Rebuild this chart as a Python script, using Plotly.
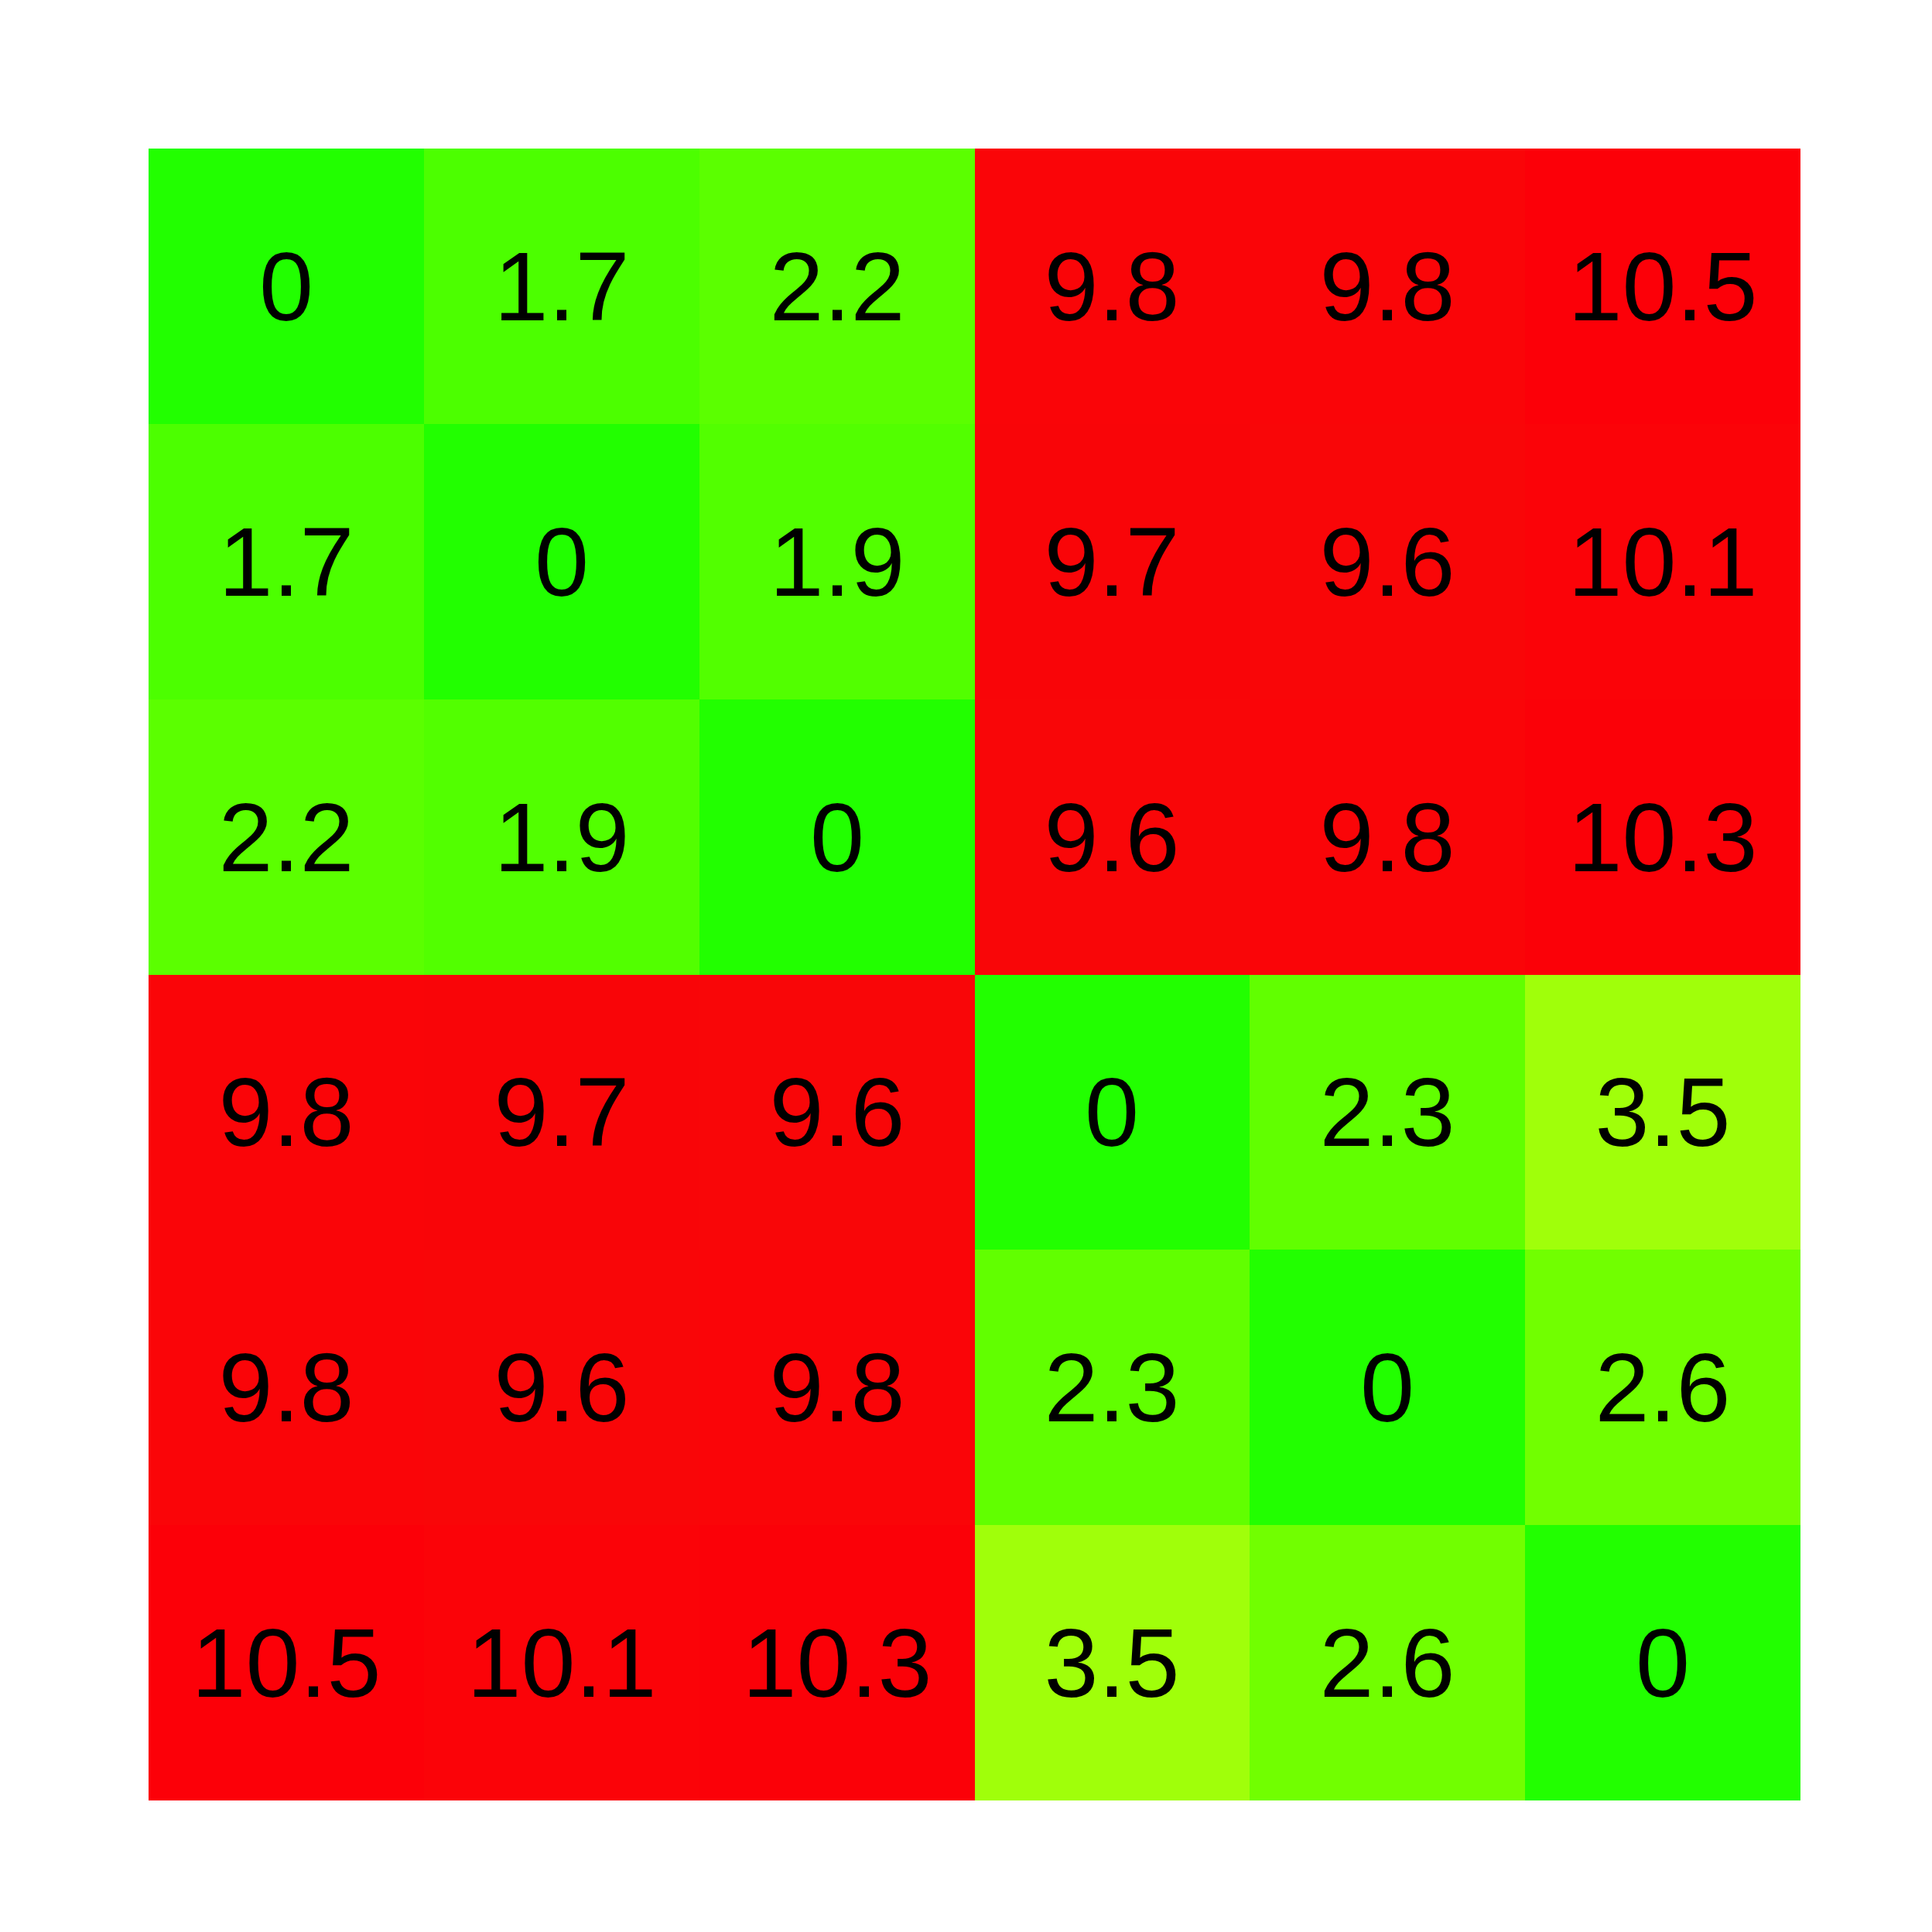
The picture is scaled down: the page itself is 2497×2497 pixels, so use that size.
import plotly.graph_objects as go

labels = ["A", "B", "C", "D", "E", "F"]
row_labels = ["A", "B", "C", "D", "E", "F"]
values = [
    [0, 1.7, 2.2, 9.8, 9.8, 10.5],
    [1.7, 0, 1.9, 9.7, 9.6, 10.1],
    [2.2, 1.9, 0, 9.6, 9.8, 10.3],
    [9.8, 9.7, 9.6, 0, 2.3, 3.5],
    [9.8, 9.6, 9.8, 2.3, 0, 2.6],
    [10.5, 10.1, 10.3, 3.5, 2.6, 0],
]
cell_text = [[("%g" % v) for v in row] for row in values]

zmax = 10.5
stops = [
    (0.0, "rgb(34,255,0)"),
    (1.7, "rgb(76,255,0)"),
    (2.2, "rgb(91,255,0)"),
    (2.6, "rgb(113,255,0)"),
    (3.5, "rgb(160,255,10)"),
    (6.5, "rgb(255,200,10)"),
    (9.6, "rgb(249,6,8)"),
    (10.5, "rgb(252,0,8)"),
]
colorscale = [[v / zmax, c] for v, c in stops]

fig = go.Figure(
    go.Heatmap(
        z=values,
        x=labels,
        y=row_labels,
        text=cell_text,
        texttemplate="%{text}",
        textfont=dict(family="Liberation Sans, Arial, sans-serif", size=126, color="black"),
        colorscale=colorscale,
        zmin=0,
        zmax=zmax,
        showscale=False,
        xgap=0,
        ygap=0,
    )
)

fig.update_layout(
    width=2497,
    height=2497,
    margin=dict(l=192, r=170, t=192, b=170),
    paper_bgcolor="white",
    plot_bgcolor="white",
    xaxis=dict(visible=False, showgrid=False, zeroline=False),
    yaxis=dict(visible=False, showgrid=False, zeroline=False, autorange="reversed"),
)

fig.write_html("out.html")
